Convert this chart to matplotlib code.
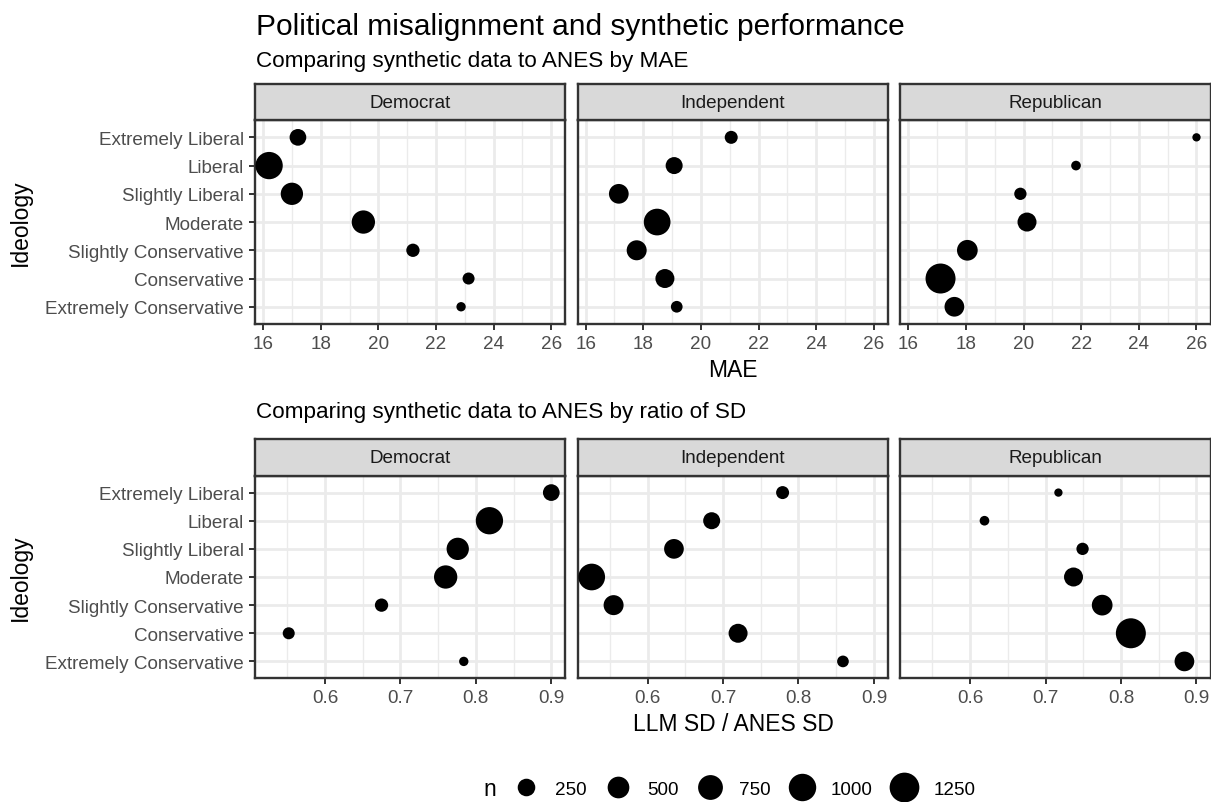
import numpy as np
import matplotlib.pyplot as plt
from matplotlib.lines import Line2D

plt.rcParams['font.family'] = ['Liberation Sans', 'DejaVu Sans']

# ---- data ----
parties = ["Democrat", "Independent", "Republican"]
ideology = ["Extremely Liberal", "Liberal", "Slightly Liberal", "Moderate",
            "Slightly Conservative", "Conservative", "Extremely Conservative"]

mae_dem = [17.21, 16.21, 17.00, 19.48, 21.20, 23.13, 22.87]
mae_ind = [21.05, 19.07, 17.15, 18.48, 17.77, 18.75, 19.16]
mae_rep = [26.00, 21.82, 19.89, 20.12, 18.05, 17.12, 17.60]

sd_dem = [0.900, 0.818, 0.776, 0.760, 0.675, 0.552, 0.784]
sd_ind = [0.779, 0.685, 0.635, 0.526, 0.555, 0.720, 0.859]
sd_rep = [0.717, 0.619, 0.749, 0.737, 0.775, 0.813, 0.884]

n_dem = [209, 986, 544, 622, 87, 57, 23]
n_ind = [79, 223, 368, 926, 386, 326, 51]
n_rep = [20, 25, 63, 326, 432, 1280, 368]

legend_breaks = [250, 500, 750, 1000, 1250]

mae = [mae_dem, mae_ind, mae_rep]
sds = [sd_dem, sd_ind, sd_rep]
ns = [n_dem, n_ind, n_rep]

# ---- size scale (area-like, like ggplot scale_size) ----
all_n = np.concatenate([np.array(v, float) for v in ns])
n_lo, n_hi = all_n.min(), all_n.max()
D_MIN, D_MAX = 8.3, 30.0  # diameters in px


def diam_px(n):
    t = (np.asarray(n, float) - n_lo) / (n_hi - n_lo)
    return D_MIN + (D_MAX - D_MIN) * np.sqrt(np.clip(t, 0, None))


def expand(vals):
    v = np.concatenate([np.array(x, float) for x in vals])
    r = v.max() - v.min()
    return v.min() - 0.05 * r, v.max() + 0.05 * r


W, H = 1211, 803
fig = plt.figure(figsize=(W / 100, H / 100), dpi=100)


def box(x0, y0, w, h):
    return fig.add_axes([x0 / W, 1 - (y0 + h) / H, w / W, h / H])


lefts = [255, 577.6, 900.2]
pw = 310.4
STRIP_H = 36.5
GRID = '#EBEBEB'
DARK = '#333333'
TXT = 13.6


def draw_row(top, ph, xs, xlim, major, minor, fmt):
    for j, party in enumerate(parties):
        ax = box(lefts[j], top, pw, ph)
        yy = np.arange(len(ideology))
        ax.scatter(xs[j], yy, s=(diam_px(ns[j]) * 0.72) ** 2, color='black',
                   linewidths=0, zorder=3)
        ax.set_xlim(*xlim)
        ax.set_ylim(len(ideology) - 0.4, -0.6)
        ax.set_xticks(major)
        ax.set_xticks(minor, minor=True)
        ax.set_xticklabels([fmt(v) for v in major])
        ax.set_yticks(yy)
        ax.set_axisbelow(True)
        ax.grid(which='major', color=GRID, lw=2.0)
        ax.grid(which='minor', axis='x', color=GRID, lw=1.0)
        ax.tick_params(which='major', length=4.4, width=1.4, color=DARK,
                       labelsize=TXT, labelcolor='#4D4D4D', pad=3.5)
        ax.tick_params(which='minor', length=0)
        if j == 0:
            ax.set_yticklabels(ideology)
        else:
            ax.tick_params(axis='y', length=0, labelleft=False)
        for sp in ax.spines.values():
            sp.set_color(DARK)
            sp.set_linewidth(1.7)
        # strip
        st = box(lefts[j], top - STRIP_H, pw, STRIP_H)
        st.set_facecolor('#D9D9D9')
        st.set_xticks([])
        st.set_yticks([])
        for sp in st.spines.values():
            sp.set_color(DARK)
            sp.set_linewidth(1.7)
        st.text(0.5, 0.5, party, ha='center', va='center', fontsize=TXT,
                color='#1A1A1A', transform=st.transAxes)


# top row: MAE
draw_row(121.4, 203.3, mae, expand(mae), np.arange(16, 27, 2),
         np.arange(17, 27, 2), lambda v: f"{v:g}")
# bottom row: SD ratio
draw_row(476.7, 202.6, sds, expand(sds), [0.6, 0.7, 0.8, 0.9],
         [0.55, 0.65, 0.75, 0.85], lambda v: f"{v:.1f}")

# titles and axis titles
fig.text(256 / W, 1 - 35 / H, "Political misalignment and synthetic performance",
         fontsize=21.5, va='baseline', ha='left')
fig.text(256 / W, 1 - 66.7 / H, "Comparing synthetic data to ANES by MAE",
         fontsize=16.2, va='baseline', ha='left')
fig.text(256 / W, 1 - 418 / H, "Comparing synthetic data to ANES by ratio of SD",
         fontsize=16.2, va='baseline', ha='left')
fig.text(733 / W, 1 - 377 / H, "MAE", fontsize=16.5, va='baseline', ha='center')
fig.text(733 / W, 1 - 731.5 / H, "LLM SD / ANES SD", fontsize=16.5,
         va='baseline', ha='center')
fig.text(20 / W, 1 - 223 / H, "Ideology", fontsize=16.5, rotation=90,
         va='center', ha='center')
fig.text(20 / W, 1 - 578 / H, "Ideology", fontsize=16.5, rotation=90,
         va='center', ha='center')

# size legend
fig.text(483 / W, 1 - 790 / H, "n", fontsize=16.5, va='center', ha='left')
handles = [Line2D([], [], marker='o', ls='', color='black',
                  markersize=diam_px(b) * 0.72, markeredgewidth=0)
           for b in legend_breaks]
fig.legend(handles, [str(b) for b in legend_breaks], ncol=5, frameon=False,
           loc='center left', bbox_to_anchor=(511.5 / W, 1 - 790 / H),
           handlelength=1.5, handletextpad=0.8, columnspacing=0.9,
           fontsize=TXT, borderaxespad=0, borderpad=0)

fig.savefig('out.png', dpi=100)
